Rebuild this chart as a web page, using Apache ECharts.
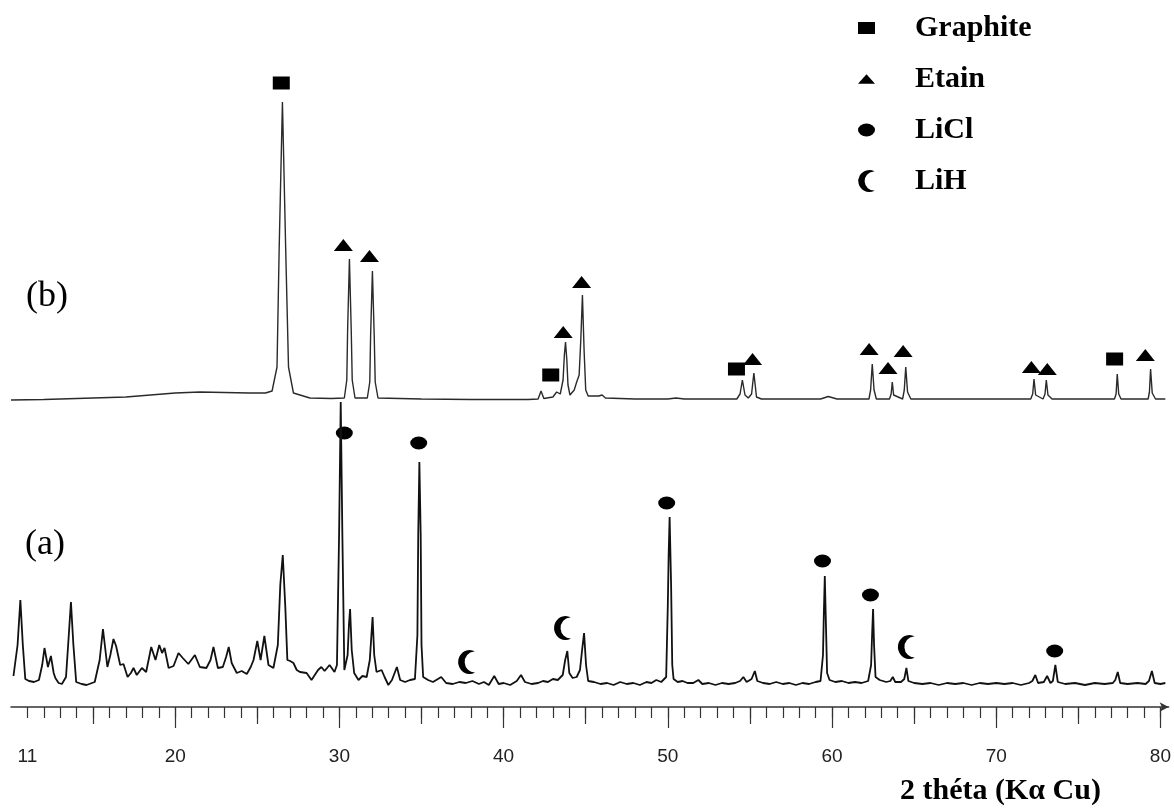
<!DOCTYPE html>
<html>
<head>
<meta charset="utf-8">
<script src="https://cdn.jsdelivr.net/npm/echarts@6/dist/echarts.min.js"></script>
<style>
html,body{margin:0;padding:0;background:#fff;}
#chart{width:1174px;height:810px;}
</style>
</head>
<body>
<div id="chart"></div>
<script>
// 2θ (degrees) vs intensity (arbitrary units, relative to each pattern's baseline)
const patternB = [
[10.0,0],[12,0.5],[14,1.5],[16,2.5],[17,3],[18.5,5],[20,7],[21.5,8],[23,7.5],[24.5,7],[25.5,7],
[25.9,9],[26.2,33],[26.33,150],[26.53,298],[26.73,150],[26.9,33],[27.2,7],[28.2,2],[29.5,1.5],
[30.3,2],[30.45,20],[30.5,70],[30.61,141],[30.72,70],[30.78,20],[30.95,2],
[31.7,2],[31.85,18],[31.9,64],[32.01,129],[32.12,64],[32.18,18],[32.35,2],
[35,1],[38,0.5],[41.5,0.5],[42.1,1],[42.28,9],[42.45,1.5],[43.0,3],[43.23,8],[43.45,6],[43.62,20],[43.7,45],
[43.77,58],[43.85,40],[43.92,15],[44.04,5],[44.3,10],[44.45,18],[44.6,25],[44.7,60],[44.8,105],[44.9,50],
[45.0,10],[45.15,4],[45.8,4],[46.0,5],[46.2,2],[48,1],[50,1],[50.5,2],[51,1],
[54.2,1],[54.4,6],[54.54,20],[54.7,5],[54.9,2],[55.1,6],[55.24,27],[55.4,3],[55.7,1],
[59.3,1],[59.77,3.5],[60.3,1],[62.25,1],[62.35,10],[62.45,36],[62.56,10],[62.7,1],
[63.5,1],[63.6,6],[63.67,18],[63.75,5],[64.3,1],[64.4,10],[64.49,33],[64.6,8],[64.8,1],
[72.1,1],[72.22,6],[72.3,21],[72.4,5],[72.85,1],[72.97,6],[73.05,20],[73.15,5],[73.4,1],
[77.2,1],[77.3,6],[77.37,26],[77.46,6],[77.6,1],[79.25,1],[79.33,8],[79.4,31],[79.5,7],[79.7,1],[80.3,1]
];

const patternA = [
[10.15,9],[10.4,40],[10.57,85],[10.72,40],[10.87,6],[11.1,4],[11.4,3],[11.7,5],[11.9,20],[12.04,37],
[12.25,18],[12.43,29],[12.6,12],[12.7,7],[12.9,2],[13.1,1],[13.35,8],[13.5,45],[13.65,83],[13.8,40],
[13.97,3],[14.3,1],[14.6,0],[15.1,3],[15.4,25],[15.6,56],[15.87,18],[16.05,30],[16.24,46],[16.4,39],
[16.65,20],[16.85,21],[17.1,8],[17.3,12],[17.46,17],[17.66,10],[17.97,17],[18.23,13],[18.54,38],[18.8,25],
[19.03,40],[19.2,32],[19.35,37],[19.6,17],[19.9,19],[20.2,32],[20.46,27],[20.8,21],[21.2,30],[21.5,18],
[21.9,17],[22.15,25],[22.33,38],[22.6,17],[22.9,18],[23.1,28],[23.26,38],[23.44,22],[23.75,12],[24.05,14],
[24.36,11],[24.6,18],[24.77,25],[25.0,44],[25.2,25],[25.43,49],[25.68,20],[25.98,17],[26.25,40],[26.4,100],
[26.55,130],[26.7,80],[26.83,25],[27.0,24],[27.2,22],[27.4,15],[27.6,13],[28.0,12],[28.3,5],[28.5,10],
[28.7,15],[28.9,18],[29.1,14],[29.4,20],[29.7,13],[29.85,20],[29.98,150],[30.08,283],[30.18,150],[30.3,15],
[30.4,13],[30.5,30],[30.58,60],[30.65,76],[30.75,35],[30.9,12],[31.16,5],[31.4,9],[31.66,8],[31.85,25],
[31.95,50],[32.02,68],[32.12,30],[32.26,13],[32.57,15],[32.75,8],[32.98,0],[33.2,5],[33.5,18],[33.7,5],
[34.0,3],[34.3,5],[34.6,6],[34.75,50],[34.8,150],[34.87,223],[34.95,150],[35.0,40],[35.1,8],[35.4,5],
[35.7,3],[36.0,6],[36.2,8],[36.5,2],[36.9,1],[37.3,3],[37.7,2],[38.1,4],[38.5,1],[38.8,3],
[39.1,0],[39.43,9],[39.7,1],[40.0,2],[40.4,0],[40.8,4],[41.06,10],[41.3,3],[41.7,1],[42.1,2],
[42.4,4],[42.7,3],[43.0,6],[43.3,5],[43.6,10],[43.75,25],[43.88,34],[44.0,12],[44.2,7],[44.45,8],
[44.65,15],[44.78,35],[44.9,52],[45.02,20],[45.15,4],[45.5,3],[45.9,1],[46.3,2],[46.7,0],[47.1,3],
[47.5,1],[47.9,2],[48.3,0],[48.7,3],[49.0,2],[49.3,5],[49.6,3],[49.9,8],[50.0,80],[50.05,130],
[50.11,168],[50.2,100],[50.27,20],[50.35,6],[50.6,3],[50.9,4],[51.2,2],[51.55,2],[51.86,5],[52.1,1],
[52.5,2],[52.9,0],[53.3,2],[53.7,1],[54.1,2],[54.4,4],[54.6,8],[54.8,3],[55.1,6],[55.3,14],
[55.45,4],[55.8,2],[56.2,1],[56.6,3],[57.0,1],[57.4,2],[57.8,0],[58.2,2],[58.6,1],[59.0,3],
[59.3,4],[59.45,30],[59.5,70],[59.56,109],[59.63,60],[59.7,12],[59.85,5],[60.2,3],[60.6,4],[61.0,2],
[61.4,3],[61.8,2],[62.2,4],[62.38,20],[62.44,50],[62.5,76],[62.56,40],[62.65,8],[62.9,5],[63.3,3],
[63.55,4],[63.7,8],[63.85,3],[64.2,3],[64.4,6],[64.53,17],[64.65,4],[65.0,2],[65.5,1],[66.0,2],
[66.5,0],[67.0,2],[67.5,1],[68.0,2],[68.5,0],[69.0,2],[69.5,1],[70.0,2],[70.5,1],[71.0,2],
[71.5,0],[72.0,2],[72.2,4],[72.38,10],[72.55,2],[72.9,3],[73.1,9],[73.3,2],[73.45,4],[73.6,20],
[73.75,3],[74.2,1],[74.8,2],[75.4,0],[76.0,2],[76.6,1],[77.1,2],[77.25,5],[77.4,13],[77.55,2],
[78.0,1],[78.6,2],[79.1,1],[79.3,4],[79.48,14],[79.65,2],[80.0,1],[80.3,2]
];

// Phase markers: [2θ, intensity level] on the pattern they annotate
const graphiteB = [[26.46,317],[42.87,25],[54.18,31],[77.21,41]];
const etainB = [[30.24,155],[31.83,144],[43.63,68],[44.75,118],[55.16,41],[62.26,51],[63.41,32],[64.33,49],[72.14,33],[73.11,31],[79.08,45]];
const liclA = [[30.30,252],[34.83,242],[49.93,182],[59.42,124],[62.34,90],[73.56,34]];
const lihA = [[37.75,23],[43.59,57],[64.53,38]];

const minorTicks = [11,12,13,14,15,16,17,18,19,20,21,22,23,24,25,26,27,28,29,30,31,32,33,34,35,36,37,38,39,40,
41,42,43,44,45,46,47,48,49,50,51,52,53,54,55,56,57,58,59,60,61,62,63,64,65,66,67,68,69,70,
71,72,73,74,75,76,77,78,79,80];
const mediumTicks = [15,25,35,45,55,65,75];
const majorTicks = [20,30,40,50,60,70,80];
const tickLabels = [11,20,30,40,50,60,70,80];

const OFFSET_A = 22;   // baseline of pattern (a)
const OFFSET_B = 307;  // baseline of pattern (b)

const CRESCENT = 'path://M18 1.6 A12 12 0 1 0 18 22.4 A10.42 10.42 0 1 1 18 1.6 Z';
const RECT_ICON = 'path://M0 0 H17 V12 H0 Z';
const TRI_ICON = 'path://M9 0 L18 10 L0 10 Z';
const ELL_ICON = 'path://M0 6.5 A8.5 6.5 0 1 0 17 6.5 A8.5 6.5 0 1 0 0 6.5 Z';
const shift = (arr, off) => arr.map(p => [p[0], p[1] + off]);

const chart = echarts.init(document.getElementById('chart'));
const tickStyle = {color:'#333', width:1.2};
const serif = 'Liberation Serif, Times New Roman, serif';

chart.setOption({
  animation:false,
  backgroundColor:'#fff',
  grid:{left:11, right:5, top:0, bottom:103},
  title:[
    {text:'(b)', left:26, top:279, padding:0, textStyle:{fontFamily:serif, fontSize:36, fontWeight:'normal', color:'#000'}},
    {text:'(a)', left:25, top:527, padding:0, textStyle:{fontFamily:serif, fontSize:36, fontWeight:'normal', color:'#000'}},
    {text:'2 théta (Kα Cu)', left:900, top:776, padding:0, textStyle:{fontFamily:serif, fontSize:30, fontWeight:'bold', color:'#000'}}
  ],
  legend:{
    orient:'vertical', left:858, top:13, padding:0, itemGap:21,
    itemWidth:17, itemHeight:22, selectedMode:false, symbolKeepAspect:true,
    textStyle:{fontFamily:serif, fontSize:30, fontWeight:'bold', color:'#000', lineHeight:30, padding:[0,0,0,35]},
    data:[
      {name:'Graphite', icon:RECT_ICON},
      {name:'Etain', icon:TRI_ICON},
      {name:'LiCl', icon:ELL_ICON},
      {name:'LiH', icon:CRESCENT}
    ]
  },
  xAxis:[
    {type:'value', min:10, max:80.5, position:'bottom', offset:0,
     splitLine:{show:false},
     axisLine:{show:true, symbol:['none','arrow'], symbolSize:[7,9], lineStyle:{color:'#333', width:1.5}},
     axisTick:{show:true, inside:false, length:11, customValues:minorTicks, lineStyle:tickStyle},
     axisLabel:{show:true, customValues:tickLabels, margin:40, fontFamily:'Liberation Sans, Arial, sans-serif', fontSize:19, color:'#222'}},
    {type:'value', min:10, max:80.5, position:'bottom', offset:0,
     splitLine:{show:false}, axisLine:{show:false}, axisLabel:{show:false},
     axisTick:{show:true, inside:false, length:17, customValues:mediumTicks, lineStyle:tickStyle}},
    {type:'value', min:10, max:80.5, position:'bottom', offset:0,
     splitLine:{show:false}, axisLine:{show:false}, axisLabel:{show:false},
     axisTick:{show:true, inside:false, length:21, customValues:majorTicks, lineStyle:tickStyle}}
  ],
  yAxis:{type:'value', min:0, max:707, show:false},
  series:[
    {name:'(b)', type:'line', data:shift(patternB, OFFSET_B), showSymbol:false, symbol:'none',
     lineStyle:{color:'#2a2a2a', width:1.4}, silent:true},
    {name:'(a)', type:'line', data:shift(patternA, OFFSET_A), showSymbol:false, symbol:'none',
     lineStyle:{color:'#111', width:1.8}, silent:true},
    {name:'Graphite', type:'scatter', data:shift(graphiteB, OFFSET_B), symbol:'rect', symbolSize:[17,13], itemStyle:{color:'#000', opacity:1}},
    {name:'Etain', type:'scatter', data:shift(etainB, OFFSET_B), symbol:'triangle', symbolSize:[19,12], itemStyle:{color:'#000', opacity:1}},
    {name:'LiCl', type:'scatter', data:shift(liclA, OFFSET_A), symbol:'circle', symbolSize:[17,13], itemStyle:{color:'#000', opacity:1}},
    {name:'LiH', type:'scatter', data:shift(lihA, OFFSET_A), symbol:CRESCENT, symbolSize:[17,24], symbolKeepAspect:false, itemStyle:{color:'#000', opacity:1}}
  ]
});
</script>
</body>
</html>
